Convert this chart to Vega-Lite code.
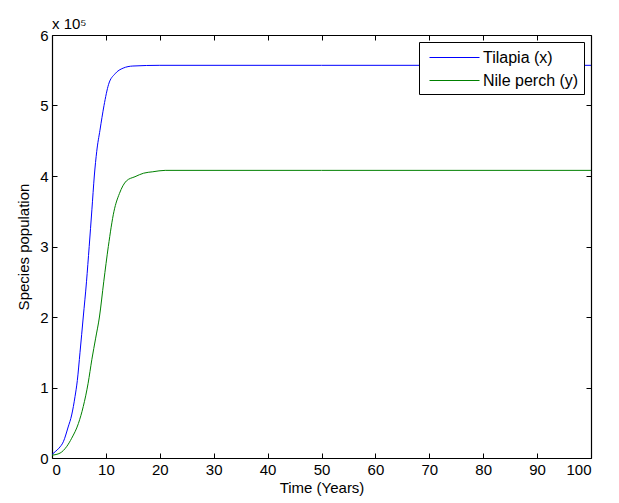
{
  "$schema": "https://vega.github.io/schema/vega-lite/v6.json",
  "width": 539,
  "height": 423,
  "autosize": {"type": "none"},
  "padding": {"left": 52, "top": 35, "right": 28, "bottom": 45},
  "background": "white",
  "title": {"text": "x 10⁵", "anchor": "start", "frame": "group", "fontSize": 15, "fontWeight": "normal", "font": "Liberation Sans", "color": "black", "offset": -4, "dx": 0},
  "config": {
    "view": {"stroke": null},
    "axis": {"grid": false, "domainColor": "black", "tickColor": "black", "labelColor": "black", "titleColor": "black", "labelFont": "Liberation Sans", "titleFont": "Liberation Sans", "labelFontSize": 15, "titleFontSize": 15, "titleFontWeight": "normal", "tickSize": -5, "labelPadding": 9, "domainWidth": 1.2, "tickWidth": 1}
  },
  "data": {"values": [
    {"t": 0, "pop": 5000, "s": "Tilapia (x)"},
    {"t": 0.6, "pop": 9000, "s": "Tilapia (x)"},
    {"t": 1.3, "pop": 14000, "s": "Tilapia (x)"},
    {"t": 2.1, "pop": 23000, "s": "Tilapia (x)"},
    {"t": 3.0, "pop": 44000, "s": "Tilapia (x)"},
    {"t": 3.65, "pop": 61000, "s": "Tilapia (x)"},
    {"t": 4.27, "pop": 87000, "s": "Tilapia (x)"},
    {"t": 4.7, "pop": 110000, "s": "Tilapia (x)"},
    {"t": 5.2, "pop": 150000, "s": "Tilapia (x)"},
    {"t": 5.8, "pop": 200000, "s": "Tilapia (x)"},
    {"t": 6.4, "pop": 250000, "s": "Tilapia (x)"},
    {"t": 6.9, "pop": 300000, "s": "Tilapia (x)"},
    {"t": 7.4, "pop": 352000, "s": "Tilapia (x)"},
    {"t": 7.85, "pop": 400000, "s": "Tilapia (x)"},
    {"t": 8.3, "pop": 435000, "s": "Tilapia (x)"},
    {"t": 8.9, "pop": 465000, "s": "Tilapia (x)"},
    {"t": 9.65, "pop": 500000, "s": "Tilapia (x)"},
    {"t": 10.5, "pop": 530000, "s": "Tilapia (x)"},
    {"t": 11.7, "pop": 545000, "s": "Tilapia (x)"},
    {"t": 13.2, "pop": 553000, "s": "Tilapia (x)"},
    {"t": 15, "pop": 556000, "s": "Tilapia (x)"},
    {"t": 20, "pop": 557000, "s": "Tilapia (x)"},
    {"t": 50, "pop": 557000, "s": "Tilapia (x)"},
    {"t": 100, "pop": 557000, "s": "Tilapia (x)"},
    {"t": 0, "pop": 4000, "s": "Nile perch (y)"},
    {"t": 1.5, "pop": 7000, "s": "Nile perch (y)"},
    {"t": 2.7, "pop": 16000, "s": "Nile perch (y)"},
    {"t": 3.65, "pop": 28000, "s": "Nile perch (y)"},
    {"t": 4.9, "pop": 49000, "s": "Nile perch (y)"},
    {"t": 5.8, "pop": 73000, "s": "Nile perch (y)"},
    {"t": 6.7, "pop": 106000, "s": "Nile perch (y)"},
    {"t": 7.4, "pop": 140000, "s": "Nile perch (y)"},
    {"t": 8.1, "pop": 170000, "s": "Nile perch (y)"},
    {"t": 8.8, "pop": 200000, "s": "Nile perch (y)"},
    {"t": 9.6, "pop": 250000, "s": "Nile perch (y)"},
    {"t": 10.45, "pop": 300000, "s": "Nile perch (y)"},
    {"t": 11.5, "pop": 350000, "s": "Nile perch (y)"},
    {"t": 12.5, "pop": 375000, "s": "Nile perch (y)"},
    {"t": 13.8, "pop": 393000, "s": "Nile perch (y)"},
    {"t": 15.4, "pop": 399000, "s": "Nile perch (y)"},
    {"t": 17, "pop": 404000, "s": "Nile perch (y)"},
    {"t": 18.7, "pop": 406000, "s": "Nile perch (y)"},
    {"t": 21, "pop": 408000, "s": "Nile perch (y)"},
    {"t": 50, "pop": 408000, "s": "Nile perch (y)"},
    {"t": 100, "pop": 408000, "s": "Nile perch (y)"}
  ]},
  "layer": [
    {
      "mark": {"type": "line", "strokeWidth": 1, "interpolate": "monotone", "clip": true},
      "encoding": {
        "x": {"field": "t", "type": "quantitative", "scale": {"domain": [0, 100], "nice": false, "zero": false}, "axis": {"orient": "bottom", "title": "Time (Years)", "values": [0,10,20,30,40,50,60,70,80,90,100], "titlePadding": 3}},
        "y": {"field": "pop", "type": "quantitative", "scale": {"domain": [0, 600000], "nice": false}, "axis": {"orient": "left", "title": "Species population", "values": [0,100000,200000,300000,400000,500000,600000], "labelExpr": "format(datum.value/100000, 'd')", "titlePadding": 8}},
        "color": {"field": "s", "type": "nominal", "sort": ["Tilapia (x)", "Nile perch (y)"], "scale": {"domain": ["Tilapia (x)", "Nile perch (y)"], "range": ["#0000FF", "#008000"]},
          "legend": {"title": null, "orient": "top-right", "offset": 7, "strokeColor": "black", "fillColor": "white", "padding": 5, "symbolType": "M-2.5,0H2.5", "symbolSize": 400, "symbolOffset": 20, "labelOffset": 18, "symbolStrokeWidth": 1, "labelFont": "Liberation Sans", "labelFontSize": 16, "labelColor": "black", "rowPadding": 4, "cornerRadius": 0}}
      }
    },
    {
      "mark": {"type": "line", "opacity": 0},
      "encoding": {
        "x": {"field": "t", "type": "quantitative", "axis": {"orient": "top", "title": null, "labels": false, "values": [0,10,20,30,40,50,60,70,80,90,100]}},
        "y": {"field": "pop", "type": "quantitative", "axis": {"orient": "right", "title": null, "labels": false, "values": [0,100000,200000,300000,400000,500000,600000]}},
        "detail": {"field": "s"}
      }
    }
  ],
  "resolve": {"axis": {"x": "independent", "y": "independent"}}
}
